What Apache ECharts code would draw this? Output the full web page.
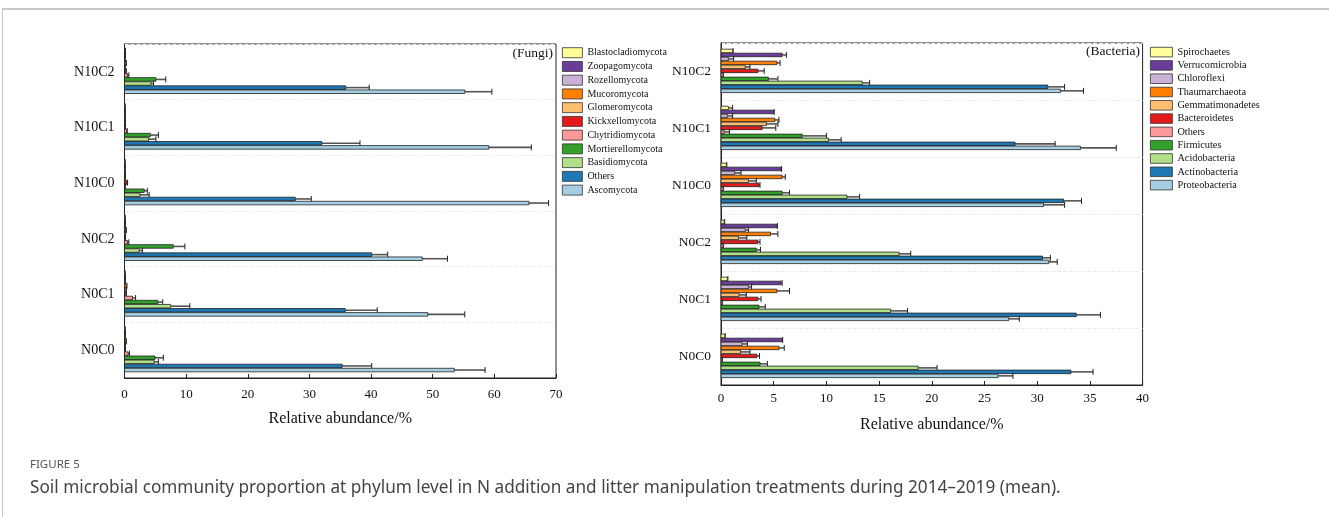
<!DOCTYPE html>
<html>
<head>
<meta charset="utf-8">
<script src="https://cdn.jsdelivr.net/npm/echarts@6/dist/echarts.min.js"></script>
<style>
html,body{margin:0;padding:0;background:#fff;}
#frame{position:absolute;left:2px;top:8px;width:1327px;height:509px;border-top:2px solid #c8c8c8;border-left:1px solid #c8c8c8;}
#chart{position:absolute;left:0;top:0;width:1329px;height:517px;}
</style>
</head>
<body>
<div id="frame"></div>
<div id="chart"></div>
<script>
// ---------- data ----------
const categories = ['N0C0', 'N0C1', 'N0C2', 'N10C0', 'N10C1', 'N10C2'];

const fungiNames = ['Blastocladiomycota', 'Zoopagomycota', 'Rozellomycota', 'Mucoromycota', 'Glomeromycota',
  'Kickxellomycota', 'Chytridiomycota', 'Mortierellomycota', 'Basidiomycota', 'Others', 'Ascomycota'];
// rows follow fungiNames, columns follow categories
const fungiMeans = [
  [0.05, 0.05, 0.05, 0.05, 0.05, 0.1],
  [0.1, 0.1, 0.1, 0.05, 0.05, 0.1],
  [0.1, 0.1, 0.1, 0.05, 0.05, 0.1],
  [0.2, 0.3, 0.2, 0.1, 0.1, 0.2],
  [0.1, 0.2, 0.1, 0.1, 0.1, 0.1],
  [0.1, 0.2, 0.1, 0.4, 0.1, 0.2],
  [0.6, 1.3, 0.5, 0.1, 0.35, 0.5],
  [4.95, 5.4, 7.9, 3.2, 4.2, 5.1],
  [4.8, 7.5, 2.4, 2.5, 3.9, 4.3],
  [35.3, 35.8, 40.1, 27.7, 32.0, 35.9],
  [53.5, 49.2, 48.3, 65.6, 59.1, 55.2]
];
const fungiErrors = [
  [0.05, 0.05, 0.05, 0.05, 0.05, 0.05],
  [0.05, 0.05, 0.05, 0.05, 0.05, 0.05],
  [0.05, 0.05, 0.05, 0.05, 0.05, 0.05],
  [0.1, 0.1, 0.1, 0.05, 0.05, 0.1],
  [0.05, 0.1, 0.05, 0.05, 0.05, 0.05],
  [0.05, 0.1, 0.05, 0.1, 0.05, 0.1],
  [0.2, 0.5, 0.2, 0.05, 0.1, 0.2],
  [1.35, 0.8, 1.9, 0.5, 1.3, 1.6],
  [0.7, 3.1, 0.5, 1.5, 1.2, 0.4],
  [4.8, 5.2, 2.6, 2.6, 6.2, 3.8],
  [5.0, 6.0, 4.1, 3.2, 6.9, 4.4]
];

const bacteriaNames = ['Spirochaetes', 'Verrucomicrobia', 'Chloroflexi', 'Thaumarchaeota', 'Gemmatimonadetes',
  'Bacteroidetes', 'Others', 'Firmicutes', 'Acidobacteria', 'Actinobacteria', 'Proteobacteria'];
const bacteriaMeans = [
  [0.35, 0.6, 0.3, 0.5, 0.7, 1.1],
  [5.8, 5.7, 5.3, 5.7, 5.0, 5.8],
  [2.0, 2.6, 2.3, 1.3, 0.6, 0.7],
  [5.5, 5.3, 4.7, 5.8, 5.1, 5.3],
  [1.85, 1.7, 1.65, 2.6, 4.3, 2.3],
  [3.4, 3.5, 3.5, 3.6, 3.9, 3.5],
  [0.1, 0.1, 0.2, 0.2, 0.3, 0.2],
  [3.7, 3.6, 3.35, 5.8, 7.7, 4.5],
  [18.7, 16.1, 16.9, 11.95, 10.2, 13.4],
  [33.2, 33.7, 30.5, 32.5, 27.9, 31.0],
  [26.3, 27.3, 31.1, 30.6, 34.1, 32.2]
];
const bacteriaErrors = [
  [0.05, 0.05, 0.05, 0.05, 0.4, 0.05],
  [0.05, 0.1, 0.05, 0.05, 0.05, 0.4],
  [0.5, 0.3, 0.3, 0.6, 0.5, 0.5],
  [0.5, 1.2, 0.7, 0.3, 0.4, 0.3],
  [0.9, 0.7, 0.8, 0.75, 1.1, 0.45],
  [0.25, 0.3, 0.2, 0.1, 1.3, 0.6],
  [0.02, 0.02, 0.02, 0.02, 0.5, 0.02],
  [0.7, 0.6, 0.4, 0.7, 2.3, 0.9],
  [1.8, 1.6, 1.1, 1.2, 1.2, 0.7],
  [2.1, 2.3, 0.75, 1.7, 3.8, 1.6],
  [1.4, 1.0, 0.8, 2.0, 3.4, 2.2]
];

const fungiTicks = [0, 70, 10];
const bacteriaTicks = [0, 40, 5];

// ---------- style ----------
const palette = ['#FFFF99', '#6A3D9A', '#CAB2D6', '#FF7F00', '#FDBF6F', '#E31A1C', '#FB9A99', '#33A02C', '#B2DF8A', '#1F78B4', '#A6CEE3'];
const SERIF = 'Liberation Serif, Times New Roman, serif';

function makeSeries(names, means, errs, gi, pitchFrac, hFrac) {
  const n = names.length;
  return names.map((name, i) => ({
    type: 'custom',
    name: name,
    xAxisIndex: gi,
    yAxisIndex: gi,
    itemStyle: { color: palette[i] },
    encode: { x: 0, y: 1 },
    data: categories.map((c, j) => [means[i][j], j, errs[i][j]]),
    renderItem: function (params, api) {
      const v = api.value(0), cat = api.value(1), e = api.value(2);
      const p0 = api.coord([0, cat]);
      const p1 = api.coord([v, cat]);
      const p2 = api.coord([v + e, cat]);
      const band = api.size([0, 1])[1];
      const pitch = band * pitchFrac, h = band * hFrac;
      const yc = p0[1] + (i - (n - 1) / 2) * pitch - 0.6;
      return {
        type: 'group',
        children: [
          { type: 'line', shape: { x1: p1[0], y1: yc, x2: p2[0], y2: yc }, style: { stroke: '#555', lineWidth: 1.6 } },
          { type: 'line', shape: { x1: p2[0], y1: yc - 3, x2: p2[0], y2: yc + 3 }, style: { stroke: '#222', lineWidth: 1 } },
          { type: 'rect', shape: { x: p0[0], y: yc - h / 2, width: Math.max(p1[0] - p0[0], 0.8), height: h },
            style: { fill: palette[i], stroke: '#222', lineWidth: 0.8 } }
        ]
      };
    }
  }));
}

function xAxisCfg(gi, ticks, margin, nameGap) {
  return {
    gridIndex: gi, type: 'value', min: ticks[0], max: ticks[1], interval: ticks[2],
    axisLine: { show: true, lineStyle: { color: '#222', width: 1 } },
    axisTick: { show: true, inside: true, length: 4, lineStyle: { color: '#222' } },
    axisLabel: { fontFamily: SERIF, fontSize: 13, color: '#111', margin: margin },
    splitLine: { show: false },
    name: 'Relative abundance/%', nameLocation: 'middle', nameGap: nameGap,
    nameTextStyle: { fontFamily: SERIF, fontSize: 16, color: '#111' }
  };
}
function yAxisCfg(gi, fs) {
  return {
    gridIndex: gi, type: 'category', data: categories,
    axisLine: { show: true, lineStyle: { color: '#222' } },
    axisTick: { show: false },
    axisLabel: { fontFamily: SERIF, fontSize: fs, color: '#111', margin: 10 },
    splitLine: { show: true, lineStyle: { color: '#ececec', type: 'dashed', width: 1 } }
  };
}
function legendCfg(names, left, top, iw, ih, gap, fs) {
  return {
    orient: 'vertical', left: left, top: top, padding: 0,
    itemWidth: iw, itemHeight: ih, itemGap: gap, icon: 'rect',
    selectedMode: false,
    itemStyle: { borderColor: '#333', borderWidth: 0.8 },
    textStyle: { fontFamily: SERIF, fontSize: fs, color: '#111', lineHeight: ih },
    data: names.map((nm, i) => ({ name: nm, itemStyle: { color: palette[i], borderColor: '#333', borderWidth: 0.8 } }))
  };
}

const chart = echarts.init(document.getElementById('chart'), null, { renderer: 'canvas' });
chart.setOption({
  animation: false,
  backgroundColor: 'transparent',
  grid: [
    { left: 124.5, top: 44, width: 431.5, height: 334, show: true, borderColor: '#222', borderWidth: 1, backgroundColor: 'transparent' },
    { left: 721, top: 43, width: 421.6, height: 342, show: true, borderColor: '#222', borderWidth: 1, backgroundColor: 'transparent' }
  ],
  xAxis: [xAxisCfg(0, fungiTicks, 10, 33), xAxisCfg(1, bacteriaTicks, 7, 32)],
  yAxis: [yAxisCfg(0, 14), yAxisCfg(1, 13.5)],
  legend: [
    legendCfg(fungiNames, 562, 47.3, 20, 10, 2.94, 10),
    legendCfg(bacteriaNames, 1150, 46.9, 22, 9.6, 2.9, 10.3)
  ],
  graphic: [
    { type: 'text', right: 1329 - 553, top: 46, style: { text: '(Fungi)', font: '13.5px ' + SERIF, fill: '#111' } },
    { type: 'text', right: 1329 - 1140, top: 44, style: { text: '(Bacteria)', font: '13.5px ' + SERIF, fill: '#111' } },
    { type: 'text', left: 30, top: 459, style: { text: 'FIGURE 5', font: '11.5px "Noto Sans", sans-serif', fill: '#555' } },
    { type: 'text', left: 30, top: 480, style: { text: 'Soil microbial community proportion at phylum level in N addition and litter manipulation treatments during 2014\u20132019 (mean).', font: '17.2px "Noto Sans", sans-serif', fill: '#444' } }
  ],
  series: [].concat(
    makeSeries(fungiNames, fungiMeans, fungiErrors, 0, 0.0736, 0.064),
    makeSeries(bacteriaNames, bacteriaMeans, bacteriaErrors, 1, 0.070, 0.062)
  )
});
</script>
</body>
</html>
